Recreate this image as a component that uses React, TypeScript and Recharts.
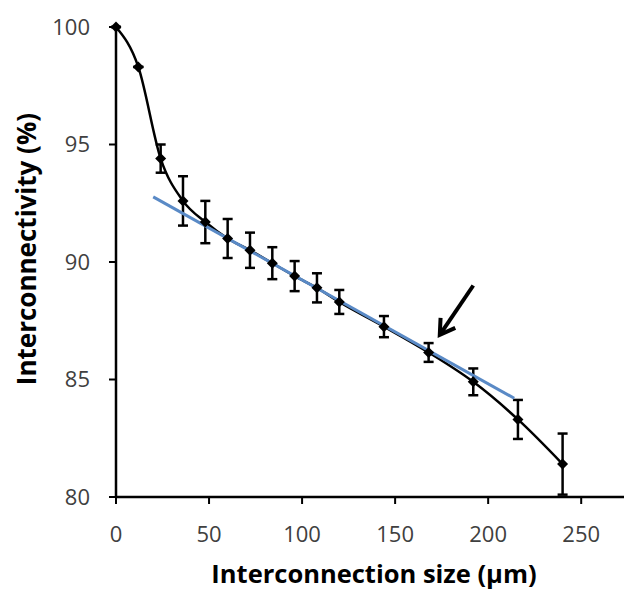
import {
  ComposedChart,
  Line,
  XAxis,
  YAxis,
  ErrorBar,
  ReferenceLine,
  Label,
} from 'recharts'

// measured points: size (µm), interconnectivity (%), error (±)
const sizes = [0, 12, 24, 36, 48, 60, 72, 84, 96, 108, 120, 144, 168, 192, 216, 240]
const values = [100, 98.3, 94.4, 92.6, 91.7, 91.0, 90.5, 89.95, 89.4, 88.9, 88.3, 87.25, 86.15, 84.9, 83.3, 81.4]
const errors = [0, 0, 0.6, 1.05, 0.9, 0.83, 0.75, 0.68, 0.64, 0.62, 0.51, 0.45, 0.4, 0.57, 0.83, 1.3]

// linear trend line endpoints
const trendX = [20, 214]
const trendY = [92.77, 84.2]

// annotation arrow (tail -> tip)
const arrowX = [192, 174]
const arrowY = [89.0, 86.9]

const xTicks = [0, 50, 100, 150, 200, 250]
const yTicks = [80, 85, 90, 95, 100]
const Y_MIN = 80

// lower whisker stops at the x axis, like the original
const data = sizes.map((x, i) => ({
  x,
  y: values[i],
  err: [Math.min(errors[i], values[i] - Y_MIN), errors[i]],
}))
const trend = trendX.map((x, i) => ({ x, t: trendY[i] }))

const FONT = '"Open Sans", sans-serif'

const Diamond = (props: any) => {
  const { cx, cy } = props
  if (cx == null || cy == null) return null
  const r = 5.5
  return (
    <polygon
      points={`${cx},${cy - r} ${cx + r},${cy} ${cx},${cy + r} ${cx - r},${cy}`}
      fill="#000"
    />
  )
}

const Arrow = (props: any) => {
  const { x1, y1, x2, y2 } = props
  if (x1 == null) return null
  const ang = Math.atan2(y2 - y1, x2 - x1)
  const L = 17
  const a1 = ang + Math.PI - 0.55
  const a2 = ang + Math.PI + 0.55
  const p1 = `${x2 + L * Math.cos(a1)},${y2 + L * Math.sin(a1)}`
  const p2 = `${x2 + L * Math.cos(a2)},${y2 + L * Math.sin(a2)}`
  return (
    <g stroke="#000" strokeWidth={4} fill="none" strokeLinecap="butt">
      <line x1={x1} y1={y1} x2={x2} y2={y2} />
      <polyline points={`${p1} ${x2},${y2} ${p2}`} />
    </g>
  )
}

export default function App() {
  return (
    <div style={{ position: 'absolute', left: 0, top: 0, background: '#fff' }}>
      <ComposedChart
        width={624}
        height={592}
        data={data}
        margin={{ top: 27, right: 0, bottom: 0, left: 0 }}
      >
        <XAxis
          type="number"
          dataKey="x"
          domain={[0, 273]}
          ticks={xTicks}
          height={95}
          tickSize={7}
          tickMargin={22}
          axisLine={{ stroke: '#000', strokeWidth: 2.5 }}
          tickLine={{ stroke: '#000', strokeWidth: 2 }}
          tick={{ fontSize: 22, fill: '#404040', fontFamily: FONT }}
        >
          <Label
            content={() => (
              <text
                x={374}
                y={583}
                textAnchor="middle"
                fontSize={25.5}
                fontWeight={700}
                fontFamily={FONT}
                fill="#000"
              >
                Interconnection size (µm)
              </text>
            )}
          />
        </XAxis>
        <YAxis
          type="number"
          domain={[Y_MIN, 100]}
          ticks={yTicks}
          width={116}
          tickSize={7}
          tickMargin={19}
          axisLine={{ stroke: '#000', strokeWidth: 2.5 }}
          tickLine={{ stroke: '#000', strokeWidth: 2 }}
          tick={{ fontSize: 22, fill: '#404040', fontFamily: FONT }}
        >
          <Label
            content={() => (
              <text
                x={26}
                y={249}
                transform="rotate(-90 26 249)"
                textAnchor="middle"
                dominantBaseline="central"
                fontSize={26}
                fontWeight={700}
                fontFamily={FONT}
                fill="#000"
              >
                Interconnectivity (%)
              </text>
            )}
          />
        </YAxis>
        <Line
          dataKey="y"
          type="monotone"
          stroke="#000"
          strokeWidth={2.5}
          dot={<Diamond />}
          activeDot={false}
          isAnimationActive={false}
        >
          <ErrorBar dataKey="err" width={5} stroke="#000" strokeWidth={2.5} direction="y" />
        </Line>
        <Line
          data={trend}
          dataKey="t"
          type="linear"
          stroke="#5A8AC6"
          strokeWidth={3}
          dot={false}
          activeDot={false}
          isAnimationActive={false}
        />
        <ReferenceLine
          segment={[
            { x: arrowX[0], y: arrowY[0] },
            { x: arrowX[1], y: arrowY[1] },
          ]}
          shape={<Arrow />}
        />
      </ComposedChart>
    </div>
  )
}
